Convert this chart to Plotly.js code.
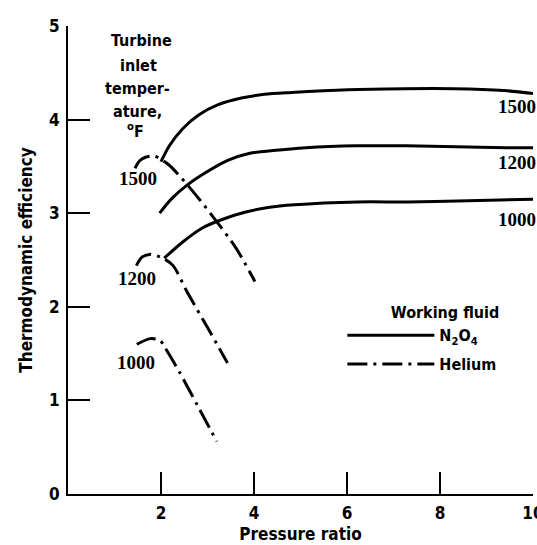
<!DOCTYPE html>
<html>
<head>
<meta charset="utf-8">
<script src="https://cdn.plot.ly/plotly-3.0.1.min.js"></script>
<style>html,body{margin:0;padding:0;background:#fff;}#chart{width:537px;height:545px;}</style>
</head>
<body>
<div id="chart"></div>
<script>
// ---- Data ----
const n2o4_1500_x = [2.00, 2.18, 2.46, 2.81, 3.23, 3.73, 4.22, 4.80, 6.02, 7.23, 8.30, 9.38, 10.0];
const n2o4_1500_y = [3.55, 3.72, 3.90, 4.05, 4.16, 4.23, 4.27, 4.29, 4.32, 4.33, 4.33, 4.31, 4.28];
const n2o4_1200_x = [1.97, 2.22, 2.56, 2.98, 3.41, 3.91, 4.41, 5.12, 6.20, 7.27, 8.35, 9.43, 10.0];
const n2o4_1200_y = [3.00, 3.15, 3.30, 3.44, 3.56, 3.64, 3.67, 3.70, 3.72, 3.72, 3.71, 3.70, 3.70];
const n2o4_1000_x = [2.07, 2.46, 2.88, 3.30, 3.80, 4.30, 4.87, 6.23, 7.31, 8.38, 10.0];
const n2o4_1000_y = [2.52, 2.69, 2.84, 2.93, 3.01, 3.06, 3.09, 3.12, 3.12, 3.13, 3.15];

const he_1500_x = [1.44, 1.54, 1.68, 1.86, 2.16, 2.64, 3.09, 3.61, 4.02];
const he_1500_y = [3.48, 3.56, 3.60, 3.61, 3.52, 3.26, 2.98, 2.63, 2.27];
const he_1200_x = [1.47, 1.59, 1.75, 2.04, 2.26, 2.56, 3.01, 3.43];
const he_1200_y = [2.44, 2.53, 2.56, 2.52, 2.44, 2.16, 1.77, 1.40];
const he_1000_x = [1.48, 1.77, 1.98, 2.09, 2.40, 2.78, 3.20];
const he_1000_y = [1.60, 1.66, 1.64, 1.56, 1.30, 0.95, 0.56];

const xTicks = [2, 4, 6, 8, 10];
const yTicks = [0, 1, 2, 3, 4, 5];
const tempLabels = ['1500', '1200', '1000'];
const titleLines = ['Turbine', 'inlet', 'temper-', 'ature,', '<sup>o</sup>F'];

// ---- Styling ----
const SANS = "DejaVu Sans Condensed, Liberation Sans Narrow, sans-serif";
const SERIF = "Liberation Serif, DejaVu Serif, serif";
const BLK = '#000';
const solid = {color: BLK, width: 3, shape: 'spline', smoothing: 0.8};
const dashdot = {color: BLK, width: 3, shape: 'spline', smoothing: 0.8, dash: '20px,6px,3px,6px'};

function tr(x, y, line, name, group, show) {
  return {x: x, y: y, type: 'scatter', mode: 'lines', line: line, name: name,
          legendgroup: group, showlegend: show, hoverinfo: 'x+y'};
}

const data = [
  tr(n2o4_1500_x, n2o4_1500_y, solid, 'N<sub>2</sub>O<sub>4</sub>', 'n2o4', true),
  tr(n2o4_1200_x, n2o4_1200_y, solid, 'N2O4 1200', 'n2o4', false),
  tr(n2o4_1000_x, n2o4_1000_y, solid, 'N2O4 1000', 'n2o4', false),
  tr(he_1500_x, he_1500_y, dashdot, 'Helium', 'he', true),
  tr(he_1200_x, he_1200_y, dashdot, 'Helium 1200', 'he', false),
  tr(he_1000_x, he_1000_y, dashdot, 'Helium 1000', 'he', false)
];

// ---- Annotations ----
const annotations = [];
const titleX = [1.58, 1.51, 1.50, 1.50, 1.45];
const titleY = [4.85, 4.58, 4.33, 4.09, 3.88];
titleLines.forEach((t, i) => annotations.push({
  x: titleX[i], y: titleY[i], xref: 'x', yref: 'y', text: t, showarrow: false,
  xanchor: 'center', yanchor: 'middle', font: {family: SANS, size: 16, color: BLK, weight: 'bold'}
}));
const leftLabX = [1.50, 1.48, 1.46];
const leftLabY = [3.37, 2.30, 1.41];
const rightLabX = [9.2, 9.2, 9.2];
const rightLabY = [4.14, 3.54, 2.93];
tempLabels.forEach((t, i) => {
  annotations.push({x: leftLabX[i], y: leftLabY[i], xref: 'x', yref: 'y', text: t, showarrow: false,
    xanchor: 'center', yanchor: 'middle', font: {family: SERIF, size: 19, color: BLK, weight: 'bold'}});
  annotations.push({x: rightLabX[i], y: rightLabY[i], xref: 'x', yref: 'y', text: t, showarrow: false,
    xanchor: 'left', yanchor: 'middle', font: {family: SERIF, size: 19, color: BLK, weight: 'bold'}});
});

const tickFont = {family: SANS, size: 17, color: BLK, weight: 'bold'};

const layout = {
  width: 537, height: 545,
  margin: {l: 68, r: 4, t: 26, b: 51, pad: 0},
  paper_bgcolor: '#fff', plot_bgcolor: '#fff',
  showlegend: true,
  legend: {
    x: 0.59, xanchor: 'left', y: 0.42, yanchor: 'top',
    title: {text: 'Working fluid', side: 'top right', font: {family: SANS, size: 16, color: BLK, weight: 'bold'}},
    font: {family: SANS, size: 16, color: BLK, weight: 'bold'},
    bgcolor: 'rgba(0,0,0,0)', itemwidth: 87, tracegroupgap: 5, traceorder: 'grouped'
  },
  xaxis: {
    range: [0, 10], tickvals: xTicks, ticktext: xTicks.map(String),
    ticks: 'inside', ticklen: 22, tickwidth: 2, tickcolor: BLK,
    showline: true, linewidth: 2, linecolor: BLK, mirror: false,
    showgrid: false, zeroline: false, tickfont: tickFont, ticklabelstandoff: 3,
    ticklabeloverflow: 'allow',
    title: {text: 'Pressure ratio', font: {family: SANS, size: 17, color: BLK, weight: 'bold'}, standoff: 6},
    fixedrange: true
  },
  yaxis: {
    range: [0, 5], tickvals: yTicks, ticktext: yTicks.map(String),
    ticks: 'inside', ticklen: 22, tickwidth: 2, tickcolor: BLK,
    showline: true, linewidth: 2, linecolor: BLK, mirror: false,
    showgrid: false, zeroline: false, tickfont: tickFont, ticklabelstandoff: 3,
    title: {text: 'Thermodynamic efficiency', font: {family: SANS, size: 17, color: BLK, weight: 'bold'}, standoff: 12},
    fixedrange: true
  },
  annotations: annotations
};

Plotly.newPlot('chart', data, layout, {displayModeBar: false, staticPlot: true});
</script>
</body>
</html>
